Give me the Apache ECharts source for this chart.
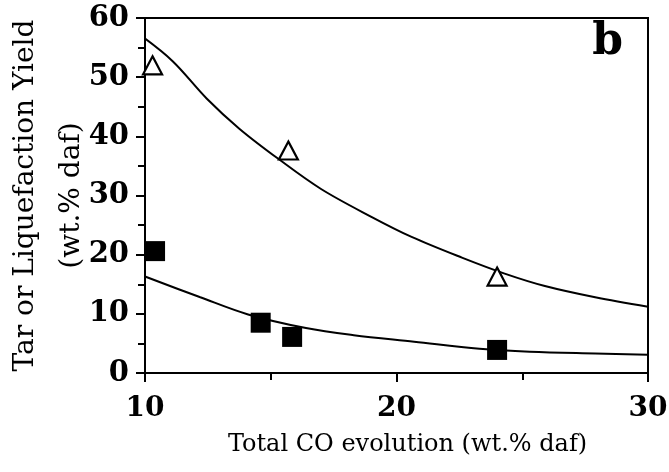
<!DOCTYPE html>
<html><head><meta charset="utf-8">
<script src="https://cdn.jsdelivr.net/npm/echarts@6/dist/echarts.min.js"></script>
<style>html,body{margin:0;padding:0;background:#fff}#c{width:669px;height:472px}</style>
</head><body><div id="c"></div>
<script>
// Measured data (open triangles and filled squares)
const triX = [10.3, 15.7, 24.0];
const triY = [52.0, 37.6, 16.3];
const sqX = [10.4, 14.6, 15.85, 24.0];
const sqY = [20.6, 8.5, 6.1, 3.9];
// Fitted curves
const upX = [9.85, 11.1, 12.45, 13.75, 15.3, 17.0, 19.0, 20.6, 22.6, 24.3, 25.9, 27.9, 30.0];
const upY = [57.0, 52.7, 46.4, 41.3, 36.2, 31.1, 26.4, 23.0, 19.5, 16.8, 14.7, 12.8, 11.2];
const loX = [10.0, 12.2, 14.1, 16.4, 18.3, 20.7, 23.3, 25.3, 27.9, 30.0];
const loY = [16.3, 12.8, 9.9, 7.6, 6.4, 5.3, 4.1, 3.6, 3.3, 3.1];
const xTicks = [10, 20, 30];
const yTicks = [0, 10, 20, 30, 40, 50, 60];

const zip = (a, b) => a.map((v, i) => [v, b[i]]);
const FONT = 'DejaVu Serif';
const chart = echarts.init(document.getElementById('c'), null, {renderer: 'canvas'});
chart.setOption({
  animation: false,
  backgroundColor: '#fff',
  grid: {left: 145, right: 21, top: 18, bottom: 99, containLabel: false, outerBoundsMode: 'none',
    show: true, borderColor: '#000', borderWidth: 2, backgroundColor: 'transparent'},
  xAxis: {
    type: 'value', min: 10, max: 30, interval: 10,
    name: 'Total CO evolution (wt.% daf)', nameLocation: 'middle', nameGap: 60, nameMoveOverlap: false,
    nameTextStyle: {fontFamily: FONT, fontSize: 24, color: '#000', padding: [0, 0, 0, 22]},
    axisLine: {lineStyle: {color: '#000', width: 2}},
    axisTick: {show: true, length: 9, lineStyle: {color: '#000', width: 2}},
    minorTick: {show: true, splitNumber: 2, length: 7, lineStyle: {color: '#000', width: 2}},
    splitLine: {show: false},
    axisLabel: {fontFamily: FONT, fontSize: 28, fontWeight: 'bold', color: '#000', margin: 22,
      formatter: v => xTicks.includes(v) ? String(v) : ''}
  },
  yAxis: {
    type: 'value', min: 0, max: 60, interval: 10,
    name: 'Tar or Liquefaction Yield\n(wt.% daf)', nameLocation: 'middle', nameGap: 50, nameRotate: 90,
    nameMoveOverlap: false,
    nameTextStyle: {fontFamily: FONT, fontSize: 28, color: '#000', lineHeight: 46, align: 'center'},
    axisLine: {lineStyle: {color: '#000', width: 2}},
    axisTick: {show: true, length: 9, lineStyle: {color: '#000', width: 2}},
    minorTick: {show: true, splitNumber: 2, length: 7, lineStyle: {color: '#000', width: 2}},
    splitLine: {show: false},
    axisLabel: {fontFamily: FONT, fontSize: 29, fontWeight: 'bold', color: '#000', margin: 16,
      formatter: v => yTicks.includes(v) ? String(v) : ''}
  },
  graphic: [{
    type: 'text', right: 46, top: 21,
    style: {text: 'b', font: 'bold 44px "DejaVu Serif"', fill: '#000'}
  }],
  series: [
    {type: 'line', data: zip(upX, upY), smooth: 0.35, showSymbol: false, symbol: 'none',
      lineStyle: {color: '#000', width: 2}, z: 2},
    {type: 'line', data: zip(loX, loY), smooth: 0.35, showSymbol: false, symbol: 'none',
      lineStyle: {color: '#000', width: 2}, z: 2},
    {type: 'scatter', data: zip(triX, triY), symbol: 'triangle', symbolSize: [19, 18],
      itemStyle: {color: '#fff', borderColor: '#000', borderWidth: 2.2, opacity: 1}, z: 3},
    {type: 'scatter', data: zip(sqX, sqY), symbol: 'rect', symbolSize: 20,
      itemStyle: {color: '#000', opacity: 1}, z: 3}
  ]
});
</script></body></html>
